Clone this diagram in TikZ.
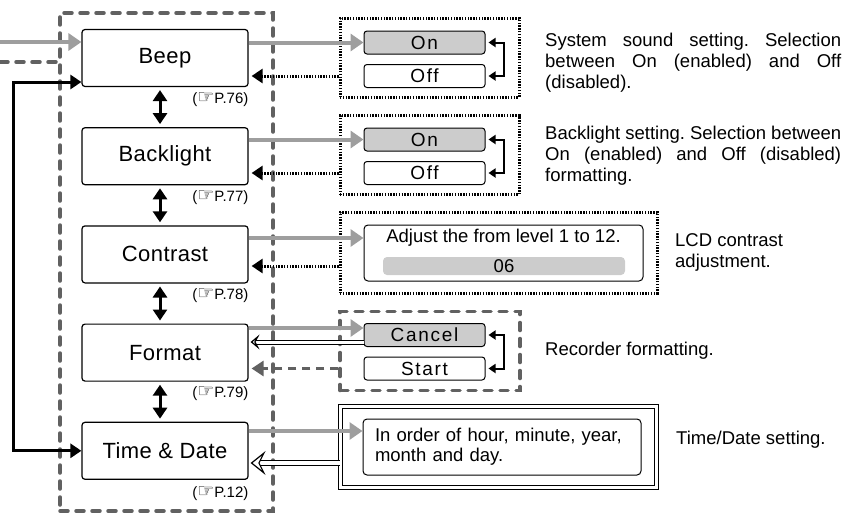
\documentclass[tikz,border=0pt]{standalone}
\usepackage{fontspec}
\setmainfont{Liberation Sans}
\newfontfamily\handfont{DejaVu Sans}
\usepackage{xcolor}
\usetikzlibrary{arrows.meta, positioning}

\definecolor{lightline}{gray}{0.62}
\definecolor{darkline}{gray}{0.38}
\definecolor{keyfill}{gray}{0.8}

\newcommand{\pref}[1]{({\handfont\fontsize{19}{19}\selectfont\char"261E}P.#1)}

\begin{document}
\frenchspacing
\begin{tikzpicture}[x=1pt, y=-1pt, node distance=40pt, >={Triangle[width=14pt,length=11pt]}]
    \tikzset{
        menubox/.style={rectangle, draw, fill=white, line width=1.2pt, rounded corners=3pt, minimum width=166pt, minimum height=57pt, font=\fontsize{22}{26}\selectfont\addfontfeature{LetterSpace=2}},
        optionbox/.style={rectangle, draw, line width=1pt, rounded corners=3pt, minimum width=121pt, minimum height=23pt, inner sep=0pt, font=\fontsize{19}{21}\selectfont\addfontfeature{LetterSpace=9}},
        pageref/.style={anchor=north east, inner sep=0pt, font=\fontsize{15}{17}\selectfont},
        dotframe/.style={rectangle, draw, line width=3pt, dash pattern=on 1.4pt off 1.4pt},
        dashframe/.style={rectangle, draw=darkline, line width=3.5pt, dash pattern=on 8pt off 8pt, line cap=round},
        dblframe/.style={rectangle, draw, line width=1.2pt, double, double distance=3.5pt},
        infobox/.style={rectangle, draw, line width=1pt, rounded corners=4pt, font=\fontsize{18.5}{20}\selectfont},
        note/.style={anchor=north west, inner sep=0pt, font=\fontsize{18.5}{21}\selectfont},
        sendline/.style={draw=lightline, line width=4pt, -{Triangle[width=17pt,length=13pt]}},
        returnline/.style={draw, line width=3pt, dash pattern=on 1.4pt off 1.4pt, shorten >=3pt, -{Triangle[width=14pt,length=11pt]}},
        returngray/.style={draw=darkline, line width=3.5pt, dash pattern=on 8pt off 6pt, shorten >=3pt, -{Triangle[width=15pt,length=12pt]}},
        dashline/.style={draw=darkline, line width=3.5pt, dash pattern=on 8pt off 8pt, line cap=round},
        cancelline/.style={draw, line width=1pt, double, double distance=3pt, shorten >=2pt, -{Stealth[open, fill=white, line width=1.2pt, width=15pt, length=9pt, inset=4pt]}},
        togglearrow/.style={draw, line width=2pt, shorten <=3pt, shorten >=3pt, {Triangle[width=9pt,length=7pt]}-{Triangle[width=9pt,length=7pt]}},
        movearrow/.style={draw, line width=3pt, <->},
        wrapline/.style={draw, line width=3pt, <->}
    }

    \useasboundingbox (0,0) rectangle (843,514);

    \node (MenuFrame) [dashframe, minimum width=213pt, minimum height=498pt] at (166.5,262) {};

    \node (Beep) [menubox] at (165,58) {Beep};
    \node (Backlight) [menubox, below=of Beep] {Backlight};
    \node (Contrast) [menubox, below=of Backlight] {Contrast};
    \node (Format) [menubox, below=of Contrast] {Format};
    \node (TimeDate) [menubox, below=of Format] {Time \& Date};

    \node (BeepRef) [pageref] at ([yshift=-5pt]Beep.south east) {\pref{76}};
    \node (BacklightRef) [pageref] at ([yshift=-5pt]Backlight.south east) {\pref{77}};
    \node (ContrastRef) [pageref] at ([yshift=-5pt]Contrast.south east) {\pref{78}};
    \node (FormatRef) [pageref] at ([yshift=-5pt]Format.south east) {\pref{79}};
    \node (TimeDateRef) [pageref] at ([yshift=-7pt]TimeDate.south east) {\pref{12}};

    \node (BeepFrame) [dotframe, minimum width=179pt, minimum height=79pt] at (429.5,57.5) {};
    \node (BeepOn) [optionbox, fill=keyfill] at (424.5,42.5) {On};
    \node (BeepOff) [optionbox] at (424.5,76) {Off};

    \node (BacklightFrame) [dotframe, minimum width=179pt, minimum height=79pt] at (429.5,155) {};
    \node (BacklightOn) [optionbox, fill=keyfill] at (424.5,139.5) {On};
    \node (BacklightOff) [optionbox] at (424.5,173) {Off};

    \node (ContrastFrame) [dotframe, minimum width=317pt, minimum height=81pt] at (498.5,252.5) {};
    \node (AdjustBox) [infobox, minimum width=279pt, minimum height=56pt] at (503.5,253) {};
    \node (AdjustText) [font=\fontsize{18.5}{20}\selectfont, inner sep=0pt] at (503.5,238) {Adjust the from level 1 to 12.};
    \node (LevelBar) [rectangle, fill=keyfill, rounded corners=4pt, minimum width=242pt, minimum height=18pt, inner sep=0pt, font=\fontsize{18.5}{20}\selectfont] at (504,266) {06};

    \node (FormatFrame) [dashframe, minimum width=180pt, minimum height=79pt] at (430,351) {};
    \node (Cancel) [optionbox, fill=keyfill] at (424.5,335) {Cancel};
    \node (Start) [optionbox] at (424.5,368.5) {Start};

    \node (TimeDateFrame) [dblframe, minimum width=316pt, minimum height=81pt] at (498.5,447) {};
    \node (TimeDateInfo) [infobox, minimum height=56pt, text width=254pt, inner xsep=12pt, align=left] at (502,447) {In order of hour, minute, year,\\month and day.};

    \node (BeepNote) [note, text width=296pt, align=justify] at (545,33) {System sound setting. Selection\linebreak between On (enabled) and Off\linebreak (disabled).};
    \node (BacklightNote) [note, text width=296pt, align=justify] at (545,126) {Backlight setting. Selection between\linebreak On (enabled) and Off (disabled)\linebreak formatting.};
    \node (ContrastNote) [note, align=left] at (675,233) {LCD contrast\\adjustment.};
    \node (FormatNote) [note] at (545,342) {Recorder formatting.};
    \node (TimeDateNote) [note] at (676,431) {Time/Date setting.};

    \coordinate (FromLeft) at (0,42);
    \coordinate (FromLeftDash) at (0,62);
    \coordinate (WrapX) at (13,250);
    \coordinate (CancelIn) at ([yshift=7pt]Cancel.west);
    \coordinate (CancelOut) at ([yshift=-7pt]Cancel.west);
    \coordinate (InfoIn) at ([yshift=16pt]TimeDateInfo.west);
    \coordinate (InfoOut) at ([yshift=-16pt]TimeDateFrame.west);

    \path [sendline] (FromLeft) -- (FromLeft -| Beep.west);
    \path [dashline] (FromLeftDash) -- (FromLeftDash -| MenuFrame.west);
    \path [wrapline] ([yshift=-24pt]Beep.west) -| (WrapX) |- (TimeDate.west);

    \path [movearrow] ([xshift=-5pt,yshift=-3pt]Beep.south) -- ([xshift=-5pt,yshift=3pt]Backlight.north);
    \path [movearrow] ([xshift=-5pt,yshift=-3pt]Backlight.south) -- ([xshift=-5pt,yshift=3pt]Contrast.north);
    \path [movearrow] ([xshift=-5pt,yshift=-3pt]Contrast.south) -- ([xshift=-5pt,yshift=3pt]Format.north);
    \path [movearrow] ([xshift=-5pt,yshift=-3pt]Format.south) -- ([xshift=-5pt,yshift=3pt]TimeDate.north);

    \path [sendline] (Beep.east |- BeepOn) -- (BeepOn.west);
    \path [returnline] (BeepOff -| BeepFrame.west) -- (BeepOff -| Beep.east);
    \path [togglearrow] (BeepOn.east) -- ++(18,0) |- (BeepOff.east);

    \path [sendline] (Backlight.east |- BacklightOn) -- (BacklightOn.west);
    \path [returnline] (BacklightOff -| BacklightFrame.west) -- (BacklightOff -| Backlight.east);
    \path [togglearrow] (BacklightOn.east) -- ++(18,0) |- (BacklightOff.east);

    \path [sendline] (Contrast.east |- AdjustText) -- (AdjustText -| AdjustBox.west);
    \path [returnline] (LevelBar -| ContrastFrame.west) -- (LevelBar -| Contrast.east);

    \path [sendline] (Format.east |- CancelIn) -- (CancelIn);
    \path [cancelline] (CancelOut) -- (CancelOut -| Format.east);
    \path [returngray] (Start -| FormatFrame.west) -- (Start -| Format.east);
    \path [togglearrow] (Cancel.east) -- ++(18,0) |- (Start.east);

    \path [sendline] (TimeDate.east |- InfoIn) -- (InfoIn);
    \path [cancelline, double distance=4pt, -{Stealth[open, fill=white, line width=1.2pt, width=24pt, length=15pt, inset=6pt]}] (InfoOut) -- (InfoOut -| TimeDate.east);

\end{tikzpicture}
\end{document}
